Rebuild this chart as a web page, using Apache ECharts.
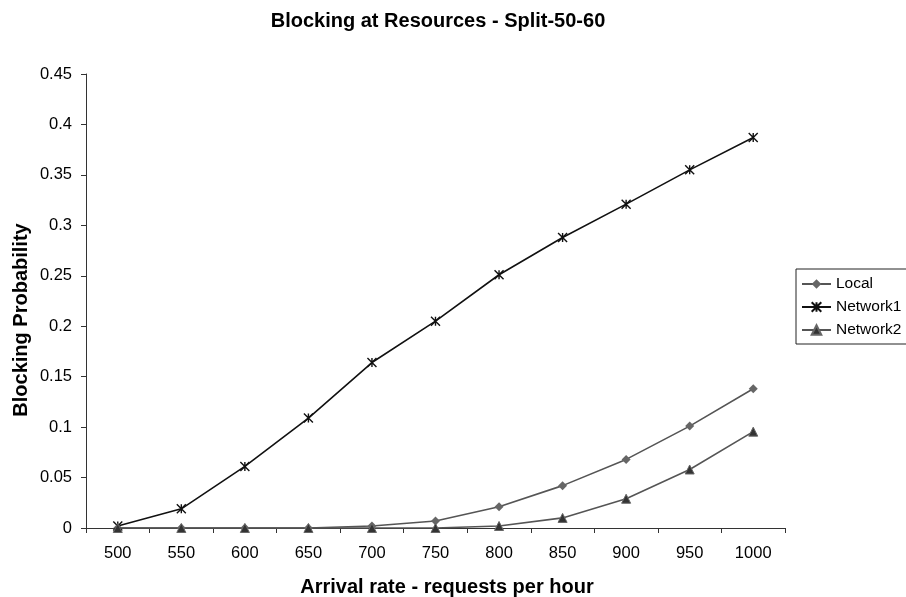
<!DOCTYPE html>
<html><head><meta charset="utf-8">
<script src="https://cdn.jsdelivr.net/npm/echarts@6/dist/echarts.min.js"></script>
<style>html,body{margin:0;padding:0;background:#fff}#c{width:906px;height:597px}</style>
</head><body><div id="c"></div>
<script>
const categories = ['500','550','600','650','700','750','800','850','900','950','1000'];
const local = [0,0,0,0,0.002,0.007,0.021,0.042,0.068,0.101,0.138];
const network1 = [0.002,0.019,0.061,0.109,0.164,0.205,0.251,0.288,0.321,0.355,0.387];
const network2 = [0,0,0,0,0,0,0.002,0.010,0.029,0.058,0.0955];
const yTicks = ['0','0.05','0.1','0.15','0.2','0.25','0.3','0.35','0.4','0.45'];
const titleText = 'Blocking at Resources - Split-50-60';
const xName = 'Arrival rate - requests per hour';
const yName = 'Blocking Probability';

const star = 'path://M0,0L10,10M10,0L0,10M5,0L5,10';
const font = 'Liberation Sans, Arial, sans-serif';
const chart = echarts.init(document.getElementById('c'));
chart.setOption({
  animation:false,
  backgroundColor:'#fff',
  title:{text:titleText,left:438,textAlign:'center',top:11,padding:0,
    textStyle:{fontFamily:font,fontSize:20,fontWeight:'bold',color:'#000'}},
  grid:{left:86,right:121,top:74,bottom:69},
  legend:{orient:'vertical',left:796,top:269,itemGap:7,itemWidth:29,itemHeight:12,
    borderColor:'#222',borderWidth:1,padding:[7,30,6,5],
    textStyle:{fontFamily:font,fontSize:15.5,color:'#000'},
    data:['Local','Network1','Network2']},
  graphic:[
    {type:'text',x:447,y:587,style:{text:xName,fontFamily:font,fontSize:20,fontWeight:'bold',fill:'#000',align:'center',verticalAlign:'middle'}},
    {type:'text',x:21,y:320,rotation:Math.PI/2,style:{text:yName,fontFamily:font,fontSize:20,fontWeight:'bold',fill:'#000',align:'center',verticalAlign:'middle'}}
  ],
  xAxis:{type:'category',data:categories,boundaryGap:true,
    axisLine:{lineStyle:{color:'#333'}},
    axisTick:{show:true,alignWithLabel:false,length:5,inside:false,lineStyle:{color:'#333'}},
    axisLabel:{fontFamily:font,fontSize:16.5,color:'#000',margin:17}},
  yAxis:{type:'value',min:0,max:0.45,interval:0.05,
    axisLine:{show:true,lineStyle:{color:'#333'}},
    axisTick:{show:true,length:5,lineStyle:{color:'#333'}},
    splitLine:{show:false},
    axisLabel:{fontFamily:font,fontSize:16.5,color:'#000',margin:14,
      formatter:(v)=>yTicks[Math.round(v/0.05)]}},
  series:[
    {name:'Local',type:'line',data:local,symbol:'diamond',symbolSize:9,
      lineStyle:{color:'#555',width:1.6},itemStyle:{color:'#666'}},
    {name:'Network1',type:'line',data:network1,symbol:star,symbolSize:9,
      lineStyle:{color:'#111',width:1.6},itemStyle:{color:'#111',borderColor:'#111',borderWidth:1.4}},
    {name:'Network2',type:'line',data:network2,symbol:'triangle',symbolSize:9,
      lineStyle:{color:'#555',width:1.6},itemStyle:{color:'#333',borderColor:'#666',borderWidth:1}}
  ]
});
</script></body></html>
